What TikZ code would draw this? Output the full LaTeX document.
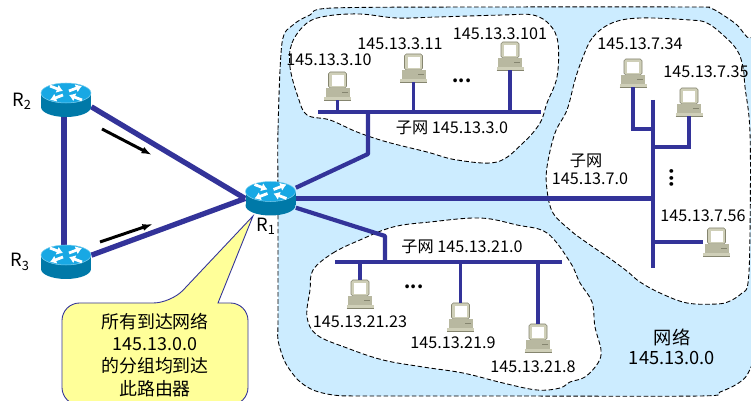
\documentclass[tikz,border=0pt]{standalone}
\usepackage{fontspec}
\setmainfont{Noto Sans CJK SC}
\usetikzlibrary{arrows.meta}
\definecolor{netblue}{HTML}{CCECFF}
\definecolor{linkblue}{HTML}{333399}
\definecolor{noteyellow}{HTML}{FFFF99}
\definecolor{routerside}{HTML}{0079A8}
\definecolor{routertop}{HTML}{18A8E4}
\definecolor{routeredge}{HTML}{7FD0F0}
\definecolor{hostbody}{HTML}{B8B8A0}
\definecolor{hostlight}{HTML}{CFCFB8}
\definecolor{hostline}{HTML}{85856F}
\tikzset{
  router/.pic={
    \fill [routerside] (-25,-7) rectangle (25,7);
    \fill [routerside] (0,7) ellipse [x radius=0.5cm,y radius=0.2cm];
    \draw [fill=routertop,draw=routeredge,line width=0.3pt] (0,-7) ellipse [x radius=0.5cm,y radius=0.2cm];
    \draw [routerarrow] (-16,-14) -- (-3,-9);
    \draw [routerarrow] (3,-9) -- (16,-14);
    \draw [routerarrow] (-3,-5) -- (-16,0);
    \draw [routerarrow] (16,0) -- (3,-5);
  },
  host/.pic={
    \draw [fill=hostlight,draw=hostline,line width=0.3pt,rounded corners=1pt] (-9,-14) rectangle (9,2);
    \fill [white] (-6,-11) rectangle (6,0);
    \fill [hostbody] (-12,2) rectangle (12,11);
    \fill [hostline] (4,6) rectangle (10,7);
    \fill [hostlight] (-13.5,11) rectangle (13.5,14);
    \draw [hostline,line width=0.3pt] (-13.5,14) -- (13.5,14);
  },
  routerarrow/.style={white,line width=1.6pt,-{Latex[length=3.5pt,width=5pt]}},
  routerbox/.style={minimum width=1cm,minimum height=0.68cm},
  hostbox/.style={minimum width=0.54cm,minimum height=0.56cm},
  blob/.style={draw=black,line width=0.5pt,dash pattern=on 2.6pt off 1.4pt},
  addr/.style={font=\fontsize{9.2}{11}\selectfont},
  dotrow/.style={font=\fontsize{10}{11}\selectfont\bfseries},
  netname/.style={font=\fontsize{10.4}{13}\selectfont},
  trunk/.style={linkblue,line width=3pt},
  feeder/.style={linkblue,line width=2.4pt},
  bus/.style={linkblue,line width=2.3pt},
  drop/.style={linkblue,line width=1.9pt},
  flow/.style={black,line width=1.7pt,-{Latex[length=6pt,width=4pt]}},
  note/.style={fill=noteyellow,draw=linkblue,line width=0.5pt},
}
\begin{document}
\begin{tikzpicture}
    [x=0.02cm,y=-0.02cm,inner sep=0pt]
    \clip (0, 0) rectangle (751, 401);
    \fill [white] (0, 0) rectangle (751, 401);
    \draw [blob,fill=netblue] plot [smooth cycle,tension=0.5] coordinates {
      (278,200) (278,130) (282,43) (293,25) (310,15) (333,8) (500,7) (690,7) (710,8) (723,15)
      (737,25) (747,37) (770,60) (775,300) (751,367) (740,382) (720,392) (700,396)
      (500,396) (360,396) (333,395) (313,390) (298,380) (285,362) (278,340) (278,320)};
    \draw [blob,fill=white] plot [smooth cycle,tension=0.6] coordinates {
      (290,67) (292,43) (307,23) (327,16) (360,14) (397,18) (437,17) (503,15) (533,15) (550,25)
      (558,43) (557,77) (547,103) (540,123) (523,143) (497,162) (457,160) (427,152)
      (387,142) (357,132) (330,120) (307,115) (298,97)};
    \draw [blob,fill=white] plot [smooth cycle,tension=0.6] coordinates {
      (583,57) (593,37) (612,23) (640,18) (690,20) (707,23) (723,35) (737,50) (743,67) (745,87)
      (750,133) (750,233) (748,283) (742,293) (730,301) (717,304) (687,303) (660,293) (640,282)
      (628,272) (612,260) (583,240) (570,230) (553,213) (547,190) (547,167) (555,133) (567,110) (575,80)};
    \draw [blob,fill=white] plot [smooth cycle,tension=0.6] coordinates {
      (313,270) (333,253) (360,240) (393,227) (430,222) (480,218) (517,225) (547,233) (570,262)
      (580,283) (592,302) (595,327) (601,350) (598,363) (585,377) (570,382) (560,388) (537,390)
      (503,383) (463,373) (423,367) (383,360) (347,348) (317,335) (307,317) (310,290)};
    \node (R1) at (270.5, 198.5) [routerbox] {};
    \node (R2) at (66, 100) [routerbox] {};
    \node (R3) at (66, 262) [routerbox] {};
    \coordinate (bus3l) at (318, 112);
    \coordinate (bus3r) at (541, 112);
    \coordinate (bus7t) at (653, 100);
    \coordinate (bus7b) at (653, 268);
    \coordinate (bus21l) at (335, 262);
    \coordinate (bus21r) at (562, 262);
    \coordinate (bend3) at (368, 154);
    \coordinate (tap3) at (368, 112);
    \coordinate (bend21) at (385, 236);
    \coordinate (tap21) at (385, 262);
    \coordinate (tap734) at (653, 129);
    \coordinate (tap735) at (653, 147);
    \coordinate (flow2a) at (102, 129);
    \coordinate (flow2b) at (152, 155);
    \coordinate (flow3a) at (100, 242);
    \coordinate (flow3b) at (153, 224);
    \draw [trunk] ([xshift=-1.2pt]R2.south) to ([xshift=-1.2pt]R3.north);
    \draw [trunk] (R2.-15) to (R1.west);
    \draw [trunk] (R3.15) to (R1.west);
    \draw [feeder,line join=round] (R1.23) -- (bend3) -- (tap3);
    \draw [feeder] (R1.east) to (R1 -| bus7t);
    \draw [feeder,line join=round] (R1.-20) -- (bend21) -- (tap21);
    \draw [bus] (bus3l) to (bus3r);
    \draw [bus] (bus7t) to (bus7b);
    \draw [bus] (bus21l) to (bus21r);
    \draw [flow] (flow2a) to (flow2b);
    \draw [flow] (flow3a) to (flow3b);
    \foreach \hname/\hx/\hy in {h310/337.5/86,h311/413.5/68,h3101/510/56,
      h734/633/73,h735/689/102,h756/716.5/242,
      h2123/360/294,h219/460.5/317,h218/538/338} {
      \node (\hname) at (\hx, \hy) [hostbox] {};
      \pic at (\hname) {host};
    }
    \draw [drop] (h310) to (h310 |- bus3l);
    \draw [drop] (h311) to (h311 |- bus3l);
    \draw [drop] (h3101) to (h3101 |- bus3l);
    \draw [drop] (h734) |- (tap734);
    \draw [drop] (h735) |- (tap735);
    \draw [drop] (h756) to (h756 -| bus7t);
    \draw [drop] (h2123) to (h2123 |- bus21l);
    \draw [drop] (h219) to (h219 |- bus21l);
    \draw [drop] (h218) to (h218 |- bus21l);
    \pic at (R1) {router};
    \pic at (R2) {router};
    \pic at (R3) {router};
    \node (lR1) at (266, 226) [netname] {R\textsubscript{1}};
    \node (lR2) at (22, 101) [netname] {R\textsubscript{2}};
    \node (lR3) at (20, 262) [netname] {R\textsubscript{3}};
    \node (a310) at (329, 60) [addr] {145.13.3.10};
    \node (a311) at (400, 44) [addr] {145.13.3.11};
    \node (a3101) at (500, 34) [addr] {145.13.3.101};
    \node (dots3) at (462, 81) [dotrow] {...};
    \node (sub3) at (452, 128) [addr] {子网 145.13.3.0};
    \node (a734) at (640, 44) [addr] {145.13.7.34};
    \node (a735) at (706, 72) [addr] {145.13.7.35};
    \node (sub7a) at (586, 161) [addr] {子网};
    \node (sub7b) at (590, 179) [addr] {145.13.7.0};
    \node (dots7) at (672, 178) [dotrow,rotate=90] {...};
    \node (a756) at (703, 216) [addr] {145.13.7.56};
    \node (sub21) at (462, 247) [addr] {子网 145.13.21.0};
    \node (dots21) at (414, 287) [dotrow] {...};
    \node (a2123) at (360, 322) [addr] {145.13.21.23};
    \node (a219) at (453, 343) [addr] {145.13.21.9};
    \node (a218) at (533, 367) [addr] {145.13.21.8};
    \node (neta) at (672, 337) [netname] {网络};
    \node (netb) at (672, 358) [netname] {145.13.0.0};
    \draw [note,rounded corners=10pt] (218, 303) -- (248, 303) -- (248, 405) -- (62, 405) -- (62, 303) -- (171, 303) [sharp corners] -- (253, 216) -- cycle;
    \node (notetext) at (155, 355) [align=center,font=\fontsize{10.2}{12.6}\selectfont] {所有到达网络\\145.13.0.0\\的分组均到达\\此路由器};
  \end{tikzpicture}
\end{document}
